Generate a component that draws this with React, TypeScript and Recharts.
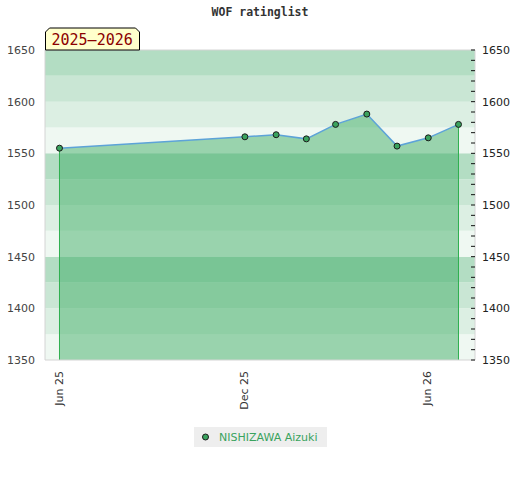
import React from 'react';
import {
  ComposedChart,
  Area,
  Line,
  XAxis,
  YAxis,
  ReferenceArea,
  ReferenceLine,
} from 'recharts';

// Monthly rating list entries
const DATES = [
  '2025-06-01', '2025-12-02', '2026-01-02', '2026-02-01', '2026-03-02',
  '2026-04-02', '2026-05-02', '2026-06-02', '2026-07-02',
];
const RATINGS = [1555, 1566, 1568, 1564, 1578, 1588, 1557, 1565, 1578];

const PLAYER = 'NISHIZAWA Aizuki';
const SEASON = '2025–2026';
const TITLE = 'WOF ratinglist';

const X_TICKS = ['2025-06-01', '2025-12-01', '2026-06-01'];
const X_DOMAIN = ['2025-05-17T14:38:00Z', '2026-07-18T09:07:00Z'];
const Y_TICKS = [1350, 1400, 1450, 1500, 1550, 1600, 1650];
const Y_MINOR_TICKS = [
  1350, 1360, 1370, 1380, 1390, 1400, 1410, 1420, 1430, 1440, 1450, 1460,
  1470, 1480, 1490, 1500, 1510, 1520, 1530, 1540, 1550, 1560, 1570, 1580,
  1590, 1600, 1610, 1620, 1630, 1640, 1650,
];
const BAND_EDGES = [1350, 1375, 1400, 1425, 1450, 1475, 1500, 1525, 1550, 1575, 1600, 1625, 1650];

const GREEN = '#3aa35e';
const EDGE_GREEN = '#2fb04f';
const BAND_COLORS = ['#eff8f2', '#dcefe3', '#c9e6d4', '#b3ddc3'];
const MONTHS = ['Jan', 'Feb', 'Mar', 'Apr', 'May', 'Jun', 'Jul', 'Aug', 'Sep', 'Oct', 'Nov', 'Dec'];

const toTs = (d: string) => Date.parse(d + 'T00:00:00Z');

const data = DATES.map((d, i) => ({ date: toTs(d), rating: RATINGS[i] }));

// vertical edges of the filled area, from the axis floor up to the first / last rating
const firstEdge = [
  { date: data[0].date, edge: 1350 },
  { date: data[0].date, edge: data[0].rating },
];
const lastEdge = [
  { date: data[data.length - 1].date, edge: 1350 },
  { date: data[data.length - 1].date, edge: data[data.length - 1].rating },
];

const FONT = '"DejaVu Sans", sans-serif';
const MONO = '"DejaVu Sans Mono", monospace';

const XTick = (props: any) => {
  const { x, y, payload } = props;
  const dt = new Date(payload.value);
  const label = `${MONTHS[dt.getUTCMonth()]} ${String(dt.getUTCFullYear()).slice(2)}`;
  return (
    <text
      x={x}
      y={y + 3}
      transform={`rotate(-90, ${x}, ${y + 3})`}
      textAnchor="end"
      dy="0.35em"
      fontSize={11}
      fontFamily={FONT}
      fill="#333"
    >
      {label}
    </text>
  );
};

const RightTick = (props: any) => {
  const { x, y, payload } = props;
  const major = payload.value % 50 === 0;
  return (
    <g>
      <line x1={x - 11} x2={x - 7} y1={y} y2={y} stroke="#111" strokeWidth={1} />
      {major && (
        <text x={x} y={y} dy="0.35em" textAnchor="start" fontSize={11} fontFamily={FONT} fill="#222">
          {payload.value}
        </text>
      )}
    </g>
  );
};

const Dot = (props: any) => {
  const { cx, cy } = props;
  if (cx == null || cy == null) return null;
  return <circle cx={cx} cy={cy} r={3} fill={GREEN} stroke="#1a1a1a" strokeWidth={1} />;
};

export default function App() {
  return (
    <div style={{ position: 'absolute', left: 0, top: 0, width: 520, height: 480, background: '#fff' }}>
      <ComposedChart
        width={520}
        height={420}
        data={data}
        margin={{ top: 50, right: 0, bottom: 0, left: 0 }}
      >
        <XAxis
          dataKey="date"
          type="number"
          scale="time"
          domain={X_DOMAIN.map((d) => Date.parse(d))}
          ticks={X_TICKS.map(toTs)}
          tick={<XTick />}
          tickLine={false}
          axisLine={{ stroke: '#d4d4d4' }}
          height={60}
          allowDataOverflow
        />
        <YAxis
          yAxisId="left"
          orientation="left"
          domain={[1350, 1650]}
          ticks={Y_TICKS}
          width={45}
          tickLine={false}
          tickMargin={4}
          axisLine={{ stroke: '#d4d4d4' }}
          tick={{ fontSize: 11, fontFamily: FONT, fill: '#444' }}
          allowDataOverflow
        />
        <YAxis
          yAxisId="right"
          orientation="right"
          domain={[1350, 1650]}
          ticks={Y_MINOR_TICKS}
          interval={0}
          width={45}
          tickLine={false}
          tickMargin={1}
          axisLine={{ stroke: '#d4d4d4' }}
          tick={<RightTick />}
          allowDataOverflow
        />
        {BAND_EDGES.slice(0, -1).map((lo, i) => (
          <ReferenceArea
            key={lo}
            yAxisId="left"
            y1={lo}
            y2={BAND_EDGES[i + 1]}
            fill={BAND_COLORS[i % 4]}
            fillOpacity={1}
            stroke="none"
          />
        ))}
        <ReferenceLine yAxisId="left" y={1650} stroke="#d4d4d4" />
        <Area
          yAxisId="left"
          type="linear"
          dataKey="rating"
          fill="#3aab62"
          fillOpacity={0.48}
          stroke="none"
          baseValue={1350}
          isAnimationActive={false}
          dot={false}
          activeDot={false}
        />
        <Line
          yAxisId="left"
          data={firstEdge}
          dataKey="edge"
          type="linear"
          stroke={EDGE_GREEN}
          strokeWidth={1}
          dot={false}
          activeDot={false}
          isAnimationActive={false}
        />
        <Line
          yAxisId="left"
          data={lastEdge}
          dataKey="edge"
          type="linear"
          stroke={EDGE_GREEN}
          strokeWidth={1}
          dot={false}
          activeDot={false}
          isAnimationActive={false}
        />
        <Line
          yAxisId="left"
          type="linear"
          dataKey="rating"
          stroke="#5da3d8"
          strokeWidth={1.5}
          dot={<Dot />}
          activeDot={false}
          isAnimationActive={false}
        />
      </ComposedChart>

      <svg width={520} height={60} style={{ position: 'absolute', left: 0, top: 0 }}>
        <text x={260} y={16} textAnchor="middle" fontFamily={MONO} fontWeight="bold" fontSize={11.5} fill="#333">
          {TITLE}
        </text>
        <polygon
          points="45.5,50 45.5,32 49.5,28 135.5,28 139.5,32 139.5,50"
          fill="#ffffcc"
          stroke="#000"
          strokeWidth={1}
        />
        <text x={51.5} y={45} fontFamily={MONO} fontSize={15} fill="#8b0000">
          {SEASON}
        </text>
      </svg>

      <div
        style={{
          position: 'absolute',
          left: 194,
          top: 427,
          width: 133,
          height: 20,
          background: '#eee',
          display: 'flex',
          alignItems: 'center',
          fontFamily: FONT,
          fontSize: 11,
          color: GREEN,
        }}
      >
        <svg width={22} height={20}>
          <circle cx={11.5} cy={10} r={3} fill={GREEN} stroke="#1a1a1a" strokeWidth={1} />
        </svg>
        <span style={{ marginLeft: 3, whiteSpace: 'nowrap' }}>{PLAYER}</span>
      </div>
    </div>
  );
}
